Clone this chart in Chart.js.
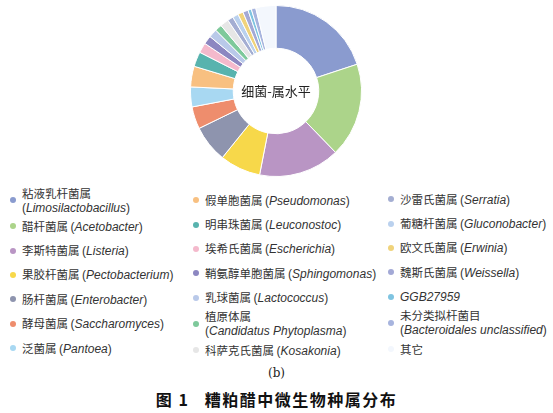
<!DOCTYPE html>
<html lang="zh">
<head>
    <meta charset="UTF-8" />
    <title>细菌-属水平</title>
    <script src="https://cdn.jsdelivr.net/npm/chart.js"></script>
    <style>
        body {
            margin: 0;
            width: 553px;
            height: 413px;
            background: #fff;
            position: relative;
            overflow: hidden;
            font-family: "Noto Sans CJK SC", "Liberation Sans", sans-serif;
            color: #333;
        }

        #donut {
            position: absolute;
            left: 190px;
            top: 5px;
            width: 172px;
            height: 172px;
        }

        #center {
            position: absolute;
            left: 226px;
            top: 82px;
            width: 100px;
            text-align: center;
            font-size: 13px;
            line-height: 18px;
            color: #222;
        }

        .col {
            position: absolute;
            display: flex;
            flex-direction: column;
        }

        .item {
            display: flex;
            align-items: center;
            height: 24.4px;
            font-size: 11.5px;
            line-height: 14px;
        }

        .item.two { height: 28px; }

        .dot {
            flex: none;
            width: 6px;
            height: 6px;
            border-radius: 50%;
            margin-right: 6px;
        }

        .latin {
            font-family: "Liberation Sans", sans-serif;
            font-size: 12px;
            white-space: nowrap;
        }

        .latin i { font-style: italic; }

        #sub {
            position: absolute;
            left: 0;
            width: 553px;
            top: 366px;
            text-align: center;
            font-family: "DejaVu Serif", serif;
            font-size: 12px;
            color: #222;
        }

        #caption {
            position: absolute;
            left: 0;
            width: 553px;
            top: 387px;
            text-align: center;
            font-size: 16px;
            letter-spacing: 1.5px;
            font-weight: bold;
            color: #111;
            white-space: pre;
        }
    </style>
</head>

<body>
    <div id="donut"><canvas id="chart"></canvas></div>
    <div id="center">细菌-属水平</div>
    <div id="legend"></div>
    <div id="sub">(b)</div>
    <div id="caption">图 1   糟粕醋中微生物种属分布</div>

    <script>
        const genusZh = [
            "粘液乳杆菌属", "醋杆菌属", "李斯特菌属", "果胶杆菌属", "肠杆菌属", "酵母菌属", "泛菌属",
            "假单胞菌属", "明串珠菌属", "埃希氏菌属", "鞘氨醇单胞菌属", "乳球菌属", "植原体属", "科萨克氏菌属",
            "沙雷氏菌属", "葡糖杆菌属", "欧文氏菌属", "魏斯氏菌属", "", "未分类拟杆菌目", "其它"
        ];
        const genusLatin = [
            "Limosilactobacillus", "Acetobacter", "Listeria", "Pectobacterium", "Enterobacter", "Saccharomyces", "Pantoea",
            "Pseudomonas", "Leuconostoc", "Escherichia", "Sphingomonas", "Lactococcus", "Candidatus Phytoplasma", "Kosakonia",
            "Serratia", "Gluconobacter", "Erwinia", "Weissella", "GGB27959", "Bacteroidales unclassified", ""
        ];
        // relative abundance (%), read from the ring
        const shares = [
            19.9, 17.8, 15.3, 7.7, 7.0, 4.2, 3.75,
            3.9, 2.8, 1.9, 1.6, 1.6, 1.3, 1.6,
            1.1, 1.1, 1.0, 1.0, 0.65, 0.85, 3.8
        ];
        const sliceColors = [
            "#8a9bcf", "#acd48a", "#b995c4", "#f7d84a", "#8e94ae", "#ee8d6d", "#a8d8f2",
            "#f8c081", "#58b3ae", "#f4b9cc", "#8c87c1", "#b9c9e9", "#7ec99b", "#e6e6e6",
            "#a4aed2", "#bad1ee", "#f0d37b", "#a3a9d6", "#7fc4e1", "#a7b4de", "#f3f7fd"
        ];

        new Chart(document.getElementById("chart"), {
            type: "doughnut",
            data: {
                labels: genusZh.map((zh, i) => zh || genusLatin[i]),
                datasets: [{
                    data: shares,
                    backgroundColor: sliceColors,
                    borderColor: "#fff",
                    borderWidth: 1
                }]
            },
            options: {
                responsive: true,
                maintainAspectRatio: false,
                animation: false,
                cutout: "50%",
                layout: { padding: 0 },
                plugins: {
                    legend: { display: false },
                    tooltip: { enabled: false }
                }
            }
        });

        // three legend columns, filled top to bottom
        const columns = [
            { left: 10, top: 186, width: 176 },
            { left: 193, top: 188, width: 188 },
            { left: 388, top: 187, width: 165 }
        ];
        const legend = document.getElementById("legend");
        columns.forEach((c, k) => {
            const col = document.createElement("div");
            col.className = "col";
            col.style.left = c.left + "px";
            col.style.top = c.top + "px";
            col.style.width = c.width + "px";
            for (let i = k * 7; i < k * 7 + 7; i++) {
                const item = document.createElement("div");
                item.className = "item";
                const dot = document.createElement("span");
                dot.className = "dot";
                dot.style.background = sliceColors[i];
                const txt = document.createElement("span");
                let html = genusZh[i];
                if (genusLatin[i]) {
                    html += (genusZh[i] ? " " : "") + '<span class="latin">' +
                        (genusZh[i] ? "(<i>" + genusLatin[i] + "</i>)" : "<i>" + genusLatin[i] + "</i>") + "</span>";
                }
                txt.innerHTML = html;
                item.appendChild(dot);
                item.appendChild(txt);
                col.appendChild(item);
            }
            legend.appendChild(col);
        });
        // items whose text wraps get a taller row
        document.querySelectorAll(".item").forEach(el => {
            if (el.lastChild.getBoundingClientRect().height > 18) el.classList.add("two");
        });
    </script>
</body>
</html>
